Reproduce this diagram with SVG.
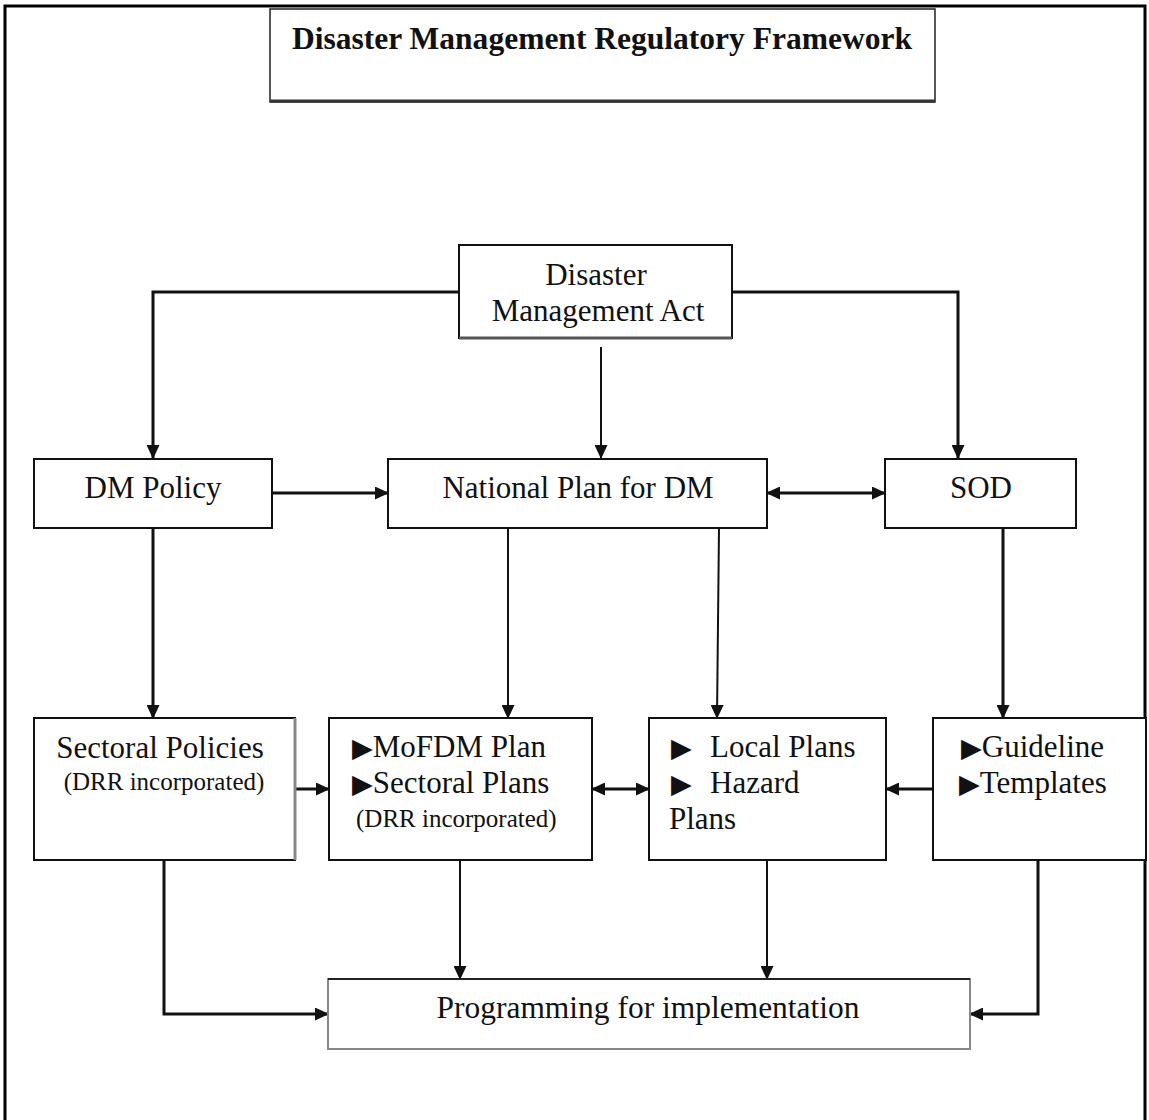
<svg xmlns="http://www.w3.org/2000/svg" width="1149" height="1120" viewBox="0 0 1149 1120">
<style>
.box{fill:#fff;stroke:#111;stroke-width:2}
.t{font-family:"Liberation Serif","Times New Roman",serif;font-size:31px;fill:#111}
.s{font-size:25px}
.b{font-family:"DejaVu Sans",sans-serif;font-size:27px}
.c{fill:none;stroke:#111;stroke-width:3}
.c2{fill:none;stroke:#111;stroke-width:2}
</style>
<defs>
<marker id="ah" markerUnits="userSpaceOnUse" markerWidth="14" markerHeight="13" refX="13" refY="6.5" orient="auto-start-reverse">
<path d="M0,0 L14,6.5 L0,13 Z" fill="#111"/>
</marker>
</defs>
<rect width="1149" height="1120" fill="#fff"/>
<path d="M5,1120 V6 H1145 V1120" fill="none" stroke="#000" stroke-width="3"/>

<g id="title">
<rect x="270" y="9" width="665" height="93" fill="#fff" stroke="#222" stroke-width="1.5"/>
<line x1="270" y1="101" x2="935" y2="101" stroke="#333" stroke-width="3"/>
<text x="602" y="49" text-anchor="middle" class="t" font-weight="bold" font-size="30" textLength="620" lengthAdjust="spacingAndGlyphs">Disaster Management Regulatory Framework</text>
</g>

<g id="connectors">
<path class="c" d="M459,292 H153 V458" marker-end="url(#ah)"/>
<path class="c" d="M732,292 H958 V458" marker-end="url(#ah)"/>
<path class="c2" d="M601,347 V458" marker-end="url(#ah)"/>
<path class="c" d="M272,493 H388" marker-end="url(#ah)"/>
<path class="c" d="M767,493 H885" marker-start="url(#ah)" marker-end="url(#ah)"/>
<path class="c" d="M153,528 V718" marker-end="url(#ah)"/>
<path class="c2" d="M508,528 V718" marker-end="url(#ah)"/>
<path class="c2" d="M719,528 L717,718" marker-end="url(#ah)"/>
<path class="c" d="M1003,528 V718" marker-end="url(#ah)"/>
<path class="c" d="M295,789 H329" marker-end="url(#ah)"/>
<path class="c" d="M592,789 H649" marker-start="url(#ah)" marker-end="url(#ah)"/>
<path class="c" d="M933,789 H886" marker-end="url(#ah)"/>
<path class="c" d="M164,860 V1014 H328" marker-end="url(#ah)"/>
<path class="c2" d="M460,860 V979" marker-end="url(#ah)"/>
<path class="c2" d="M767,860 V979" marker-end="url(#ah)"/>
<path class="c" d="M1038,860 V1014 H970" marker-end="url(#ah)"/>
</g>

<g id="dma">
<rect class="box" x="459" y="245" width="273" height="93" stroke="#444"/>
<line x1="459" y1="338" x2="732" y2="338" stroke="#555" stroke-width="3"/>
<text class="t" x="596" y="285" text-anchor="middle">Disaster</text>
<text class="t" x="598" y="321" text-anchor="middle">Management Act</text>
</g>

<g id="dmpolicy">
<rect class="box" x="34" y="459" width="238" height="69"/>
<text class="t" x="153" y="498" text-anchor="middle">DM Policy</text>
</g>

<g id="national">
<rect class="box" x="388" y="459" width="379" height="69"/>
<text class="t" x="578" y="498" text-anchor="middle">National Plan for DM</text>
</g>

<g id="sod">
<rect class="box" x="885" y="459" width="191" height="69"/>
<text class="t" x="981" y="498" text-anchor="middle">SOD</text>
</g>

<g id="sectoral">
<rect class="box" x="34" y="718" width="261" height="142"/>
<line x1="295" y1="718" x2="295" y2="860" stroke="#888" stroke-width="3"/>
<text class="t" x="160" y="758" text-anchor="middle">Sectoral Policies</text>
<text class="t s" x="164" y="790" text-anchor="middle">(DRR incorporated)</text>
</g>

<g id="mofdm">
<rect class="box" x="329" y="718" width="263" height="142"/>
<text class="t" x="352" y="757"><tspan class="b">▶</tspan>MoFDM Plan</text>
<text class="t" x="352" y="793"><tspan class="b">▶</tspan>Sectoral Plans</text>
<text class="t s" x="356" y="827">(DRR incorporated)</text>
</g>

<g id="local">
<rect class="box" x="649" y="718" width="237" height="142"/>
<text class="t" x="671" y="757"><tspan class="b">▶</tspan><tspan x="710">Local Plans</tspan></text>
<text class="t" x="671" y="793"><tspan class="b">▶</tspan><tspan x="710">Hazard</tspan></text>
<text class="t" x="669" y="829">Plans</text>
</g>

<g id="guideline">
<rect class="box" x="933" y="718" width="213" height="142"/>
<text class="t" x="961" y="757"><tspan class="b">▶</tspan>Guideline</text>
<text class="t" x="959" y="793"><tspan class="b">▶</tspan>Templates</text>
</g>

<g id="programming">
<rect x="328" y="979" width="642" height="70" fill="#fff" stroke="#888" stroke-width="2"/>
<line x1="328" y1="979" x2="970" y2="979" stroke="#222" stroke-width="2"/>
<text class="t" x="648" y="1018" text-anchor="middle" textLength="423" lengthAdjust="spacingAndGlyphs">Programming for implementation</text>
</g>
</svg>
